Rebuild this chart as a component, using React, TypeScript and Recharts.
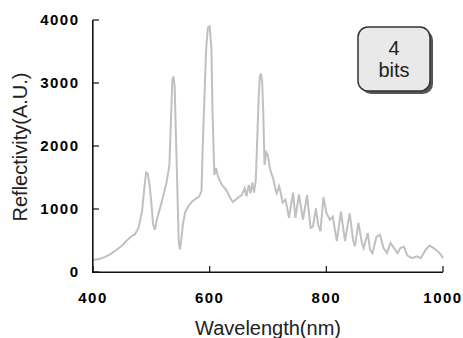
import { LineChart, Line, XAxis, YAxis, Label } from "recharts";

const wavelengths = [
  400, 410, 420, 430, 440, 450, 458, 465, 472, 478, 484, 488, 491, 494, 497, 500, 503, 506, 510, 518,
  526, 531, 534, 536, 538, 540, 542, 545, 547, 549, 551, 554, 558, 563, 570, 576, 582, 586, 588, 591,
  594, 597, 600, 603, 605, 608, 611, 613, 616, 621, 626, 631, 636, 640, 645, 650, 655, 660, 663, 667,
  670, 673, 676, 679, 681, 684, 686, 688, 690, 692, 694, 697, 700, 703, 706, 709, 713, 715, 719, 722,
  725, 730, 736, 743, 747, 753, 760, 767, 773, 777, 782, 786, 790, 795, 800, 806, 811, 818, 825, 832,
  835, 840, 846, 849, 855, 861, 864, 871, 875, 879, 886, 892, 898, 904, 910, 916, 922, 927, 933, 939,
  947, 955, 962, 970, 977, 984, 991, 997, 1000,
];

const reflectivity = [
  190, 205, 235, 285, 350, 420, 500, 560, 600, 700, 960, 1330, 1580, 1560, 1380, 1100, 760, 670, 850, 1120,
  1420, 1700, 2500, 3050, 3100, 2950, 2230, 1180, 480, 360, 480, 750, 950, 1040, 1120, 1160, 1200, 1280, 1960, 2760,
  3550, 3880, 3900, 3550, 2500, 1540, 1650, 1560, 1480, 1380, 1330, 1260, 1160, 1110, 1150, 1190, 1220, 1330, 1200, 1380,
  1250, 1420, 1260, 1450, 1960, 2760, 3100, 3150, 3020, 2500, 1700, 1900, 1850, 1650, 1560, 1480, 1300, 1250, 1360, 1250,
  1100, 1150, 860, 1260, 860, 1230, 830, 1220, 700, 720, 1010, 750, 650, 1190, 940, 830, 880, 490, 960, 490,
  660, 930, 500, 410, 780, 460, 380, 620, 350, 300, 560, 590, 380, 300, 460, 380, 300, 380, 400, 260,
  220, 250, 220, 350, 420, 380, 330, 270, 220,
];

const xTicks = [400, 600, 800, 1000];
const yTicks = [0, 1000, 2000, 3000, 4000];

const data = wavelengths.map((wl, i) => ({ wl, r: reflectivity[i] }));

const FONT = "'Liberation Sans', Arial, sans-serif";
const INK = "#111";
const TICK_LEN = 6;
const LW = 1.2;
const Y_GAP = 13.5;
const X_GAP = 20;

// plot frame, matches the chart margins below
const PLOT = { left: 93, top: 20, right: 443, bottom: 272 };

// ticks point into the plot; marks drawn as thin rects next to each label
function YTick(props: any) {
  const { x, y, payload } = props;
  const ax = x + Y_GAP;
  return (
    <g>
      <rect x={ax} y={y - LW / 2} width={TICK_LEN} height={LW} fill={INK} />
      <text x={x} y={y} dy="0.36em" textAnchor="end" fontSize={15} fontWeight="bold"
        fontFamily={FONT} letterSpacing={1.5} fill="#000">
        {payload.value}
      </text>
    </g>
  );
}

function XTick(props: any) {
  const { x, y, payload } = props;
  const ay = y - X_GAP;
  return (
    <g>
      <rect x={x - LW / 2} y={ay - TICK_LEN} width={LW} height={TICK_LEN} fill={INK} />
      <text x={x} y={y} dy="0.71em" textAnchor="middle" fontSize={15} fontWeight="bold"
        fontFamily={FONT} letterSpacing={1.5} fill="#000">
        {payload.value}
      </text>
    </g>
  );
}

const xTitle = () => (
  <g>
    <text x={268} y={334.5} textAnchor="middle" fontSize={20} fontFamily={FONT} fill="#222">
      Wavelength(nm)
    </text>
    <rect x={361} y={30} width={72} height={64} rx={10} fill="#555" />
    <rect x={358} y={27} width={72} height={64} rx={10} fill="#e9e9e9" stroke="#333" strokeWidth={1.5} />
    <text x={394} y={55} textAnchor="middle" fontSize={20} fontFamily={FONT} fill="#222">4</text>
    <text x={394} y={77} textAnchor="middle" fontSize={20} fontFamily={FONT} fill="#222">bits</text>
  </g>
);

const yTitle = () => (
  <text x={27} y={147} textAnchor="middle" fontSize={20} fontFamily={FONT} fill="#222"
    transform="rotate(-90, 27, 147)">
    Reflectivity(A.U.)
  </text>
);

export default function App() {
  return (
    <div style={{ position: "absolute", left: 0, top: 0, width: 463, height: 338 }}>
      <LineChart width={463} height={338} data={data} margin={{ top: 20, right: 20, bottom: 0, left: 0 }}>
        <XAxis
          dataKey="wl"
          type="number"
          domain={[400, 1000]}
          ticks={xTicks}
          height={66}
          tickSize={0}
          tickMargin={X_GAP}
          tick={<XTick />}
          axisLine={{ stroke: INK, strokeWidth: LW }}
        >
          <Label content={xTitle} />
        </XAxis>
        <YAxis
          type="number"
          domain={[0, 4000]}
          ticks={yTicks}
          width={93}
          tickSize={0}
          tickMargin={Y_GAP}
          tick={<YTick />}
          axisLine={{ stroke: INK, strokeWidth: LW }}
        >
          <Label content={yTitle} />
        </YAxis>
        <Line type="linear" dataKey="r" stroke="#c0c0c0" strokeWidth={2} dot={false} isAnimationActive={false} />
      </LineChart>
      {/* axis frame lines as plain divs on top */}
      <div style={{ position: "absolute", left: PLOT.left - 1, top: PLOT.top, width: 1, height: PLOT.bottom - PLOT.top + 1, background: INK }} />
      <div style={{ position: "absolute", left: PLOT.left - 1, top: PLOT.bottom, width: PLOT.right - PLOT.left + 1, height: 1, background: INK }} />
    </div>
  );
}
